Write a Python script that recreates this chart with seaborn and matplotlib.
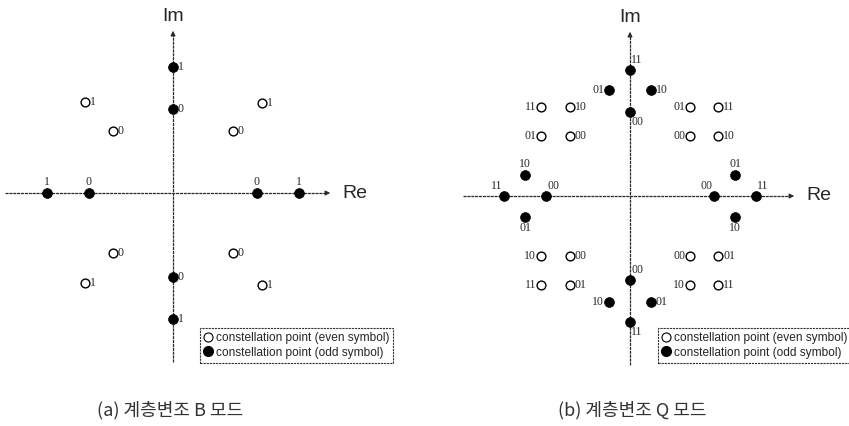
import numpy as np
import pandas as pd
import matplotlib
matplotlib.use('Agg')
import matplotlib.pyplot as plt
from matplotlib.lines import Line2D
import seaborn as sns

# ---- data (units: inner odd ring = 2, outer odd ring = 3) ----
# (a) B mode
b_even_x = [-2.10, -1.43, 1.43, 2.12, -1.43, -2.10, 1.43, 2.12]
b_even_y = [2.17, 1.47, 1.47, 2.15, -1.42, -2.15, -1.42, -2.18]
b_even_lbl = ['1', '0', '0', '1', '0', '1', '0', '1']

b_odd_x = [-3.0, -2.0, 2.0, 3.0, 0.0, 0.0, 0.0, 0.0]
b_odd_y = [0.0, 0.0, 0.0, 0.0, 3.0, 2.0, -2.0, -3.0]
b_odd_lbl = ['1', '0', '0', '1', '1', '0', '0', '1']

# (b) Q mode
q_even_x = [-2.12, -1.43, -2.12, -1.43, 1.43, 2.10, 1.43, 2.10,
            -2.12, -1.43, -2.12, -1.43, 1.43, 2.10, 1.43, 2.10]
q_even_y = [2.12, 2.12, 1.43, 1.43, 2.12, 2.12, 1.43, 1.43,
            -1.43, -1.43, -2.12, -2.12, -1.43, -1.43, -2.12, -2.12]
q_even_lbl = ['11', '10', '01', '00', '01', '11', '00', '10',
              '10', '00', '11', '01', '00', '01', '10', '11']

q_odd_x = [-3.0, -2.0, 2.0, 3.0, 0.0, 0.0, 0.0, 0.0,
           -0.5, 0.5, -0.5, 0.5, -2.5, -2.5, 2.5, 2.5]
q_odd_y = [0.0, 0.0, 0.0, 0.0, 3.0, 2.0, -2.0, -3.0,
           2.52, 2.52, -2.52, -2.52, 0.5, -0.5, 0.5, -0.5]
q_odd_lbl = ['11', '00', '00', '11', '11', '00', '00', '11',
             '01', '10', '10', '01', '10', '01', '01', '10']

captions = ['(a) 계층변조 B 모드', '(b) 계층변조 Q 모드']
legend_labels = ['constellation point (even symbol)',
                 'constellation point (odd symbol)']

# label placement (style only)
b_even_pos = ['r'] * 8
b_odd_pos = ['u', 'u', 'u', 'u', 'r', 'r', 'r', 'r']
q_even_pos = ['l', 'r', 'l', 'r', 'l', 'r', 'l', 'r',
              'l', 'r', 'l', 'r', 'l', 'r', 'l', 'r']
q_odd_pos = ['ul', 'ur', 'ul', 'ur', 'ur', 'dr', 'ur', 'dr',
             'l', 'r', 'l', 'r', 'u', 'd', 'u', 'd']

OFFS = {'r': (3.5, 0, 'left', 'center'), 'l': (-3.5, 0, 'right', 'center'),
        'u': (0, 3.5, 'center', 'bottom'), 'd': (0, -3.5, 'center', 'top'),
        'ul': (-1, 3, 'right', 'bottom'), 'ur': (1, 3, 'left', 'bottom'),
        'dr': (1, -3, 'left', 'top')}

sns.set_style('white')
W, H = 849, 426
UNIT = 42.0
fig = plt.figure(figsize=(W / 100, H / 100), dpi=100)


def make_axes(ox, oy, x0, x1, y0, y1):
    ax = fig.add_axes([x0 / W, 1 - y1 / H, (x1 - x0) / W, (y1 - y0) / H])
    ax.set_xlim((x0 - ox) / UNIT, (x1 - ox) / UNIT)
    ax.set_ylim((oy - y1) / UNIT, (oy - y0) / UNIT)
    ax.axis('off')
    return ax


def draw_axes_lines(ax, xl, xr, yb, yt):
    c = '#2a2a2a'
    ax.plot([xl, xr - 0.15], [0, 0], color=c, lw=0.9, ls=(0, (2.5, 0.6)), zorder=1)
    ax.plot([0, 0], [yb, yt - 0.15], color=c, lw=0.9, ls=(0, (2.5, 0.6)), zorder=1)
    ax.annotate('', xy=(xr, 0), xytext=(xr - 0.2, 0),
                arrowprops=dict(arrowstyle='-|>', color=c, lw=0.8, mutation_scale=7))
    ax.annotate('', xy=(0, yt), xytext=(0, yt - 0.2),
                arrowprops=dict(arrowstyle='-|>', color=c, lw=0.8, mutation_scale=7))
    ax.text(xr + 0.22, 0, 'Re', fontsize=14, family='Liberation Sans',
            ha='left', va='center')
    ax.text(0, yt + 0.08, 'Im', fontsize=14, family='Liberation Sans',
            ha='center', va='bottom')


def draw_points(ax, ex, ey, elbl, epos, ox_, oy_, olbl, opos):
    even = pd.DataFrame({'x': ex, 'y': ey})
    odd = pd.DataFrame({'x': ox_, 'y': oy_})
    sns.scatterplot(data=even, x='x', y='y', ax=ax, s=40, color='white',
                    edgecolor='black', linewidth=1.0, legend=False, zorder=3)
    sns.scatterplot(data=odd, x='x', y='y', ax=ax, s=50, color='black',
                    edgecolor='black', linewidth=0.5, legend=False, zorder=3)
    for xs, ys, lbls, pos in [(ex, ey, elbl, epos), (ox_, oy_, olbl, opos)]:
        for x, y, t, p in zip(xs, ys, lbls, pos):
            dx, dy, ha, va = OFFS[p]
            ax.annotate(t, (x, y), xytext=(dx, dy), textcoords='offset points',
                        ha=ha, va=va, fontsize=8.5, family='Liberation Serif')


def add_legend(ax, left_px):
    handles = [Line2D([], [], ls='none', marker='o', ms=6.5, mfc='white',
                      mec='black', mew=0.8),
               Line2D([], [], ls='none', marker='o', ms=7, mfc='black',
                      mec='black')]
    leg = ax.legend(handles, legend_labels, loc='upper left',
                    bbox_to_anchor=(left_px / W, 1 - 328 / H),
                    bbox_transform=fig.transFigure, borderaxespad=0,
                    handlelength=0.6, handletextpad=0.35,
                    borderpad=0.35, labelspacing=0.2, fancybox=False,
                    framealpha=1, edgecolor='#333333',
                    prop={'family': 'Liberation Sans', 'size': 8.6})
    leg.get_frame().set_linewidth(0.8)
    leg.get_frame().set_linestyle((0, (2, 0.8)))


# (a) B mode
ax1 = make_axes(173, 193, 0, 420, 0, 372)
draw_axes_lines(ax1, (5 - 173) / UNIT, (333 - 173) / UNIT,
                (193 - 362) / UNIT, (193 - 28) / UNIT)
draw_points(ax1, b_even_x, b_even_y, b_even_lbl, b_even_pos,
            b_odd_x, b_odd_y, b_odd_lbl, b_odd_pos)
add_legend(ax1, 200)

# (b) Q mode
ax2 = make_axes(630, 196, 440, 849, 0, 372)
draw_axes_lines(ax2, (463 - 630) / UNIT, (797 - 630) / UNIT,
                (196 - 365) / UNIT, (196 - 29) / UNIT)
draw_points(ax2, q_even_x, q_even_y, q_even_lbl, q_even_pos,
            q_odd_x, q_odd_y, q_odd_lbl, q_odd_pos)
add_legend(ax2, 658)

for cx, cap in zip([170, 632], captions):
    fig.text(cx / W, 1 - 410 / H, cap, ha='center', va='center', fontsize=13,
             color='#333333', family=['Noto Sans CJK KR', 'DejaVu Sans'],
             fontweight='light')

fig.savefig('out.png', dpi=100)
